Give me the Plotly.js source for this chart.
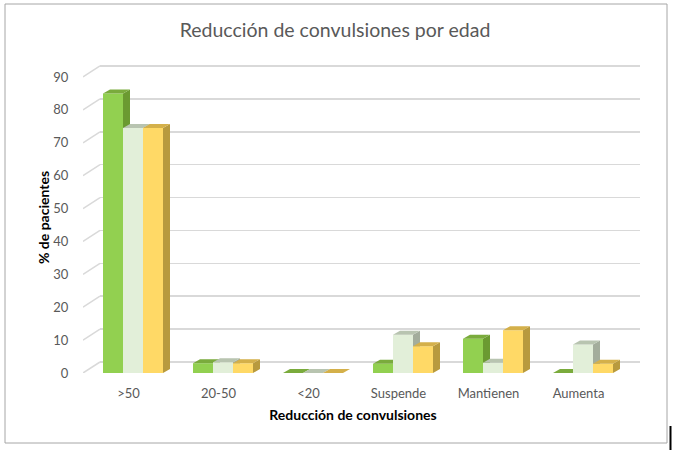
<!DOCTYPE html>
<html><head><meta charset="utf-8">
<script src="https://cdn.plot.ly/plotly-3.0.1.min.js"></script>
<style>html,body{margin:0;padding:0;background:#fff}#chart{width:675px;height:452px}</style>
</head><body><div id="chart"></div>
<script>
// ---- data ----
const categories = ['>50', '20-50', '<20', 'Suspende', 'Mantienen', 'Aumenta'];
const seriesNames = ['Serie 1', 'Serie 2', 'Serie 3'];
const serie1 = [85, 3, 0, 2.8, 10.4, 0];
const serie2 = [74.5, 3.3, 0, 11.6, 3.1, 8.7];
const serie3 = [74.5, 3, 0, 8.1, 13, 2.8];
const yTicks = [0, 10, 20, 30, 40, 50, 60, 70, 80, 90];

// ---- styles ----
const faceColors = [
  {front: '#92d050', side: '#6b9a31', top: '#7aab3c'},
  {front: '#e2efd9', side: '#a3ad9c', top: '#b8c4b0'},
  {front: '#ffd966', side: '#b89a3e', top: '#d4b04a'}
];
const W = 675, H = 452;
const mL = 83, mR = 35, mT = 62, mB = 79;
const pxPerUnitY = 3.289;           // vertical scale
const pxPerCat = 90;                // category spacing
const cat0px = 128.5;               // pixel of category 0
const frontRightPx = 623;           // right edge of front plane
const wallLeftPx = 100;             // left edge of back wall
const wallRightPx = 640;
const wallShiftPx = 11;             // vertical shift of back wall
const barW = 20 / pxPerCat;         // bar width (units)
const barShift = 4.5 / pxPerCat;    // group offset from tick
const depthX = 7 / pxPerCat;        // bar depth (x units)
const depthY = 4 / pxPerUnitY;      // bar depth (y units)

const plotW = W - mL - mR, plotH = H - mT - mB;
const x2Range = [(mL - cat0px) / pxPerCat, (frontRightPx - cat0px) / pxPerCat];
const y2Range = [0, plotH / pxPerUnitY];
const wallShift = wallShiftPx / pxPerUnitY;
const yWallRange = [-wallShift, plotH / pxPerUnitY - wallShift];

const traces = [];

// side wall diagonal lines
const xFront = x2Range[0], xBack = (wallLeftPx - cat0px) / pxPerCat;
const dX = [], dY = [];
yTicks.forEach(v => { dX.push(xFront, xBack, null); dY.push(v, v + wallShift, null); });
traces.push({type: 'scatter', mode: 'lines', x: dX, y: dY, xaxis: 'x2', yaxis: 'y2',
  line: {color: '#d9d9d9', width: 1.5}, hoverinfo: 'skip', showlegend: false, cliponaxis: false});

// bars drawn as 3D blocks
const allSeries = [serie1, serie2, serie3];
allSeries.forEach((vals, k) => {
  const fx = [], fy = [], sx = [], sy = [], tx = [], ty = [];
  vals.forEach((v, i) => {
    const c = i + barShift + (k - 1) * barW;
    const xl = c - barW / 2, xr = c + barW / 2;
    fx.push(xl, xr, xr, xl, xl, null); fy.push(0, 0, v, v, 0, null);
    sx.push(xr, xr + depthX, xr + depthX, xr, xr, null);
    sy.push(0, depthY, v + depthY, v, 0, null);
    tx.push(xl, xl + depthX, xr + depthX, xr, xl, null);
    ty.push(v, v + depthY, v + depthY, v, v, null);
  });
  const base = {type: 'scatter', mode: 'lines', fill: 'toself', xaxis: 'x2', yaxis: 'y2',
    line: {width: 0}, showlegend: false, name: seriesNames[k], hoverinfo: 'skip'};
  traces.push(Object.assign({}, base, {x: fx, y: fy, fillcolor: faceColors[k].front}));
  traces.push(Object.assign({}, base, {x: sx, y: sy, fillcolor: faceColors[k].side}));
  traces.push(Object.assign({}, base, {x: tx, y: ty, fillcolor: faceColors[k].top}));
});

// invisible trace to instantiate the wall subplot
traces.unshift({type: 'scatter', x: [0], y: [0], xaxis: 'x', yaxis: 'y', mode: 'none',
  showlegend: false, hoverinfo: 'skip'});

const font = 'Lato, "Open Sans", sans-serif';
const pxToPaperX = px => (px - mL) / plotW;
const pxToPaperY = py => (H - mB - py) / plotH;

const layout = {
  width: W, height: H,
  margin: {l: mL, r: mR, t: mT, b: mB, pad: 0},
  paper_bgcolor: '#ffffff', plot_bgcolor: 'rgba(0,0,0,0)',
  showlegend: false,
  font: {family: font, color: '#595959', size: 13},
  title: {text: 'Reducción de convulsiones por edad', font: {family: font, size: 19.5, color: '#595959'},
    x: 335 / W, xref: 'container', xanchor: 'center', y: 1 - 30 / H, yref: 'container', yanchor: 'middle'},
  // back wall (gridlines only)
  xaxis: {domain: [pxToPaperX(wallLeftPx), pxToPaperX(wallRightPx)], range: [0, 1],
    showgrid: false, zeroline: false, showticklabels: false, showline: false, ticks: '', fixedrange: true},
  yaxis: {domain: [0, 1], range: yWallRange, tickvals: yTicks, showgrid: true, gridcolor: '#d9d9d9', gridwidth: 1.5,
    zeroline: false, showticklabels: false, showline: false, ticks: '', fixedrange: true},
  // front plane (bars, labels)
  xaxis2: {domain: [0, pxToPaperX(frontRightPx)], range: x2Range, anchor: 'y2',
    tickvals: categories.map((c, i) => i), ticktext: categories,
    showgrid: false, zeroline: false, showline: false, ticks: 'outside', ticklen: 8, tickcolor: 'rgba(0,0,0,0)',
    tickfont: {family: font, size: 13, color: '#595959'},
    title: {text: 'Reducción de convulsiones', font: {family: font, size: 14, color: '#000000', weight: 'bold'}, standoff: 10}},
  yaxis2: {domain: [0, 1], range: y2Range, anchor: 'x2', tickvals: yTicks,
    showgrid: false, zeroline: false, showline: false, ticks: 'outside', ticklen: 11, tickcolor: 'rgba(0,0,0,0)',
    tickfont: {family: font, size: 13, color: '#595959'},
    title: {text: '% de pacientes', font: {family: font, size: 14, color: '#000000', weight: 'bold'}, standoff: 0}},
  shapes: [
    {type: 'rect', xref: 'paper', yref: 'paper', x0: pxToPaperX(5), x1: pxToPaperX(667),
      y0: pxToPaperY(443), y1: pxToPaperY(4), line: {color: '#a6a6a6', width: 1}, layer: 'below'},
    {type: 'line', xref: 'paper', yref: 'paper', x0: pxToPaperX(670.5), x1: pxToPaperX(670.5),
      y0: pxToPaperY(450), y1: pxToPaperY(426), line: {color: '#000000', width: 2}}
  ]
};

Plotly.newPlot('chart', traces, layout, {displayModeBar: false, staticPlot: true});
</script>
</body></html>
